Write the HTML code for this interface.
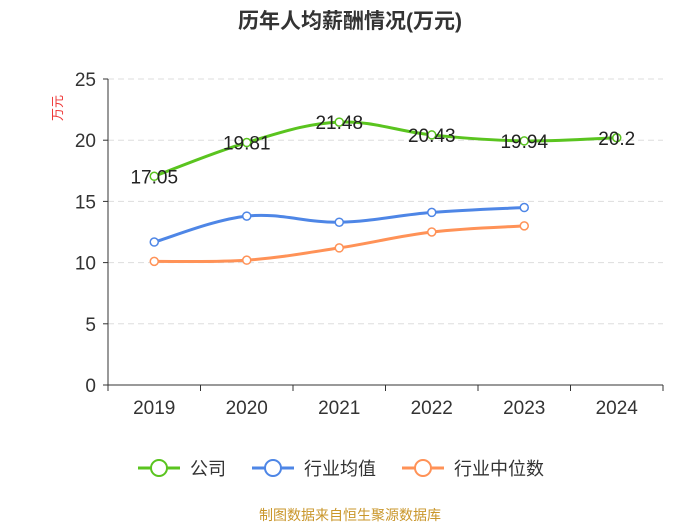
<!DOCTYPE html>
<html><head><meta charset="utf-8"><style>
body{margin:0;background:#fff;width:700px;height:525px;overflow:hidden;font-family:"Liberation Sans","Noto Sans CJK SC",sans-serif;}
</style></head><body>
<svg id="chart" width="700" height="525" font-family="Liberation Sans, Noto Sans CJK SC, sans-serif">
<text x="350" y="28" text-anchor="middle" font-size="21" font-weight="bold" fill="#333">历年人均薪酬情况(万元)</text>
<text x="62" y="108" text-anchor="middle" font-size="13" fill="#e33" transform="rotate(-90 62 108)">万元</text>
<g id="grid"></g><g id="axes"></g><g id="series"></g>
<g>
<g><line x1="138" y1="468" x2="180" y2="468" stroke="#5ac41f" stroke-width="3"/><circle cx="159" cy="468" r="8" fill="#fff" stroke="#5ac41f" stroke-width="2"/><text x="190" y="475" font-size="18" fill="#333">公司</text></g>
<g><line x1="252" y1="468" x2="294" y2="468" stroke="#4e86e6" stroke-width="3"/><circle cx="273" cy="468" r="8" fill="#fff" stroke="#4e86e6" stroke-width="2"/><text x="304" y="475" font-size="18" fill="#333">行业均值</text></g>
<g><line x1="402" y1="468" x2="444" y2="468" stroke="#ff9257" stroke-width="3"/><circle cx="423" cy="468" r="8" fill="#fff" stroke="#ff9257" stroke-width="2"/><text x="454" y="475" font-size="18" fill="#333">行业中位数</text></g>
</g>
<text x="350" y="520" text-anchor="middle" font-size="14" fill="#c9962a">制图数据来自恒生聚源数据库</text>
</svg>
<script>
const categories=["2019","2020","2021","2022","2023","2024"];
const companyValues=[17.05,19.81,21.48,20.43,19.94,20.2];
const industryAvg=[11.68,13.8,13.3,14.1,14.5];
const industryMedian=[10.1,10.2,11.2,12.5,13.0];
const yTicks=[0,5,10,15,20,25];
const NS="http://www.w3.org/2000/svg";
const x0=108,x1=663,y0=385,y1=79,yMax=25;
const bw=(x1-x0)/categories.length;
const xS=i=>x0+bw*(i+0.5);
const yS=v=>y0-(v/yMax)*(y0-y1);
function mk(t,a,p){const e=document.createElementNS(NS,t);for(const k in a)e.setAttribute(k,a[k]);p.appendChild(e);return e;}
const grid=document.getElementById('grid'),axes=document.getElementById('axes'),ser=document.getElementById('series');
yTicks.forEach(v=>{
 if(v>0){const g=mk('line',{x1:x0,x2:x1,y1:yS(v),y2:yS(v),stroke:'#ddd','stroke-dasharray':'6,4'},grid);
 
 }
 const t=mk('text',{x:x0-12,y:yS(v)+7,'text-anchor':'end','font-size':19,fill:'#333'},axes);t.textContent=v;
 
 
 mk('line',{x1:x0-5,x2:x0,y1:yS(v),y2:yS(v),stroke:'#333'},axes);
});
const ya=mk('line',{x1:x0,x2:x0,y1:y1,y2:y0,stroke:'#333'},axes);


const xa=mk('line',{x1:x0,x2:x1,y1:y0,y2:y0,stroke:'#333'},axes);


for(let i=0;i<=categories.length;i++)mk('line',{x1:x0+bw*i,x2:x0+bw*i,y1:y0,y2:y0+6,stroke:'#333'},axes);
categories.forEach((c,i)=>{const t=mk('text',{x:xS(i),y:y0+29,'text-anchor':'middle','font-size':19,fill:'#333'},axes);t.textContent=c;
 
 });
function path(vals){
 const P=vals.map((v,i)=>[xS(i),yS(v)]);const k=0.18;let d='M'+P[0][0]+','+P[0][1];
 for(let i=1;i<P.length;i++){const p0=P[Math.max(0,i-2)],p1=P[i-1],p2=P[i],p3=P[Math.min(P.length-1,i+1)];
  const c1=[p1[0]+(p2[0]-p0[0])*k,p1[1]+(p2[1]-p0[1])*k],c2=[p2[0]-(p3[0]-p1[0])*k,p2[1]-(p3[1]-p1[1])*k];
  d+=' C'+c1+' '+c2+' '+p2;}
 return d;}
function series(vals,color,name,labels){
 const p=mk('path',{d:path(vals),fill:'none',stroke:color,'stroke-width':3},ser);
 
 
 vals.forEach((v,i)=>{const c=mk('circle',{cx:xS(i),cy:yS(v),r:4,fill:'#fff',stroke:color,'stroke-width':1.5},ser);
  
  
  if(labels){const t=mk('text',{x:xS(i),y:yS(v)+7,'text-anchor':'middle','font-size':19,fill:'#222'},ser);t.textContent=v;
   
   }
 });
}
series(industryMedian,'#ff9257','industry-median',false);
series(industryAvg,'#4e86e6','industry-avg',false);
series(companyValues,'#5ac41f','company',true);
</script>
</body></html>
